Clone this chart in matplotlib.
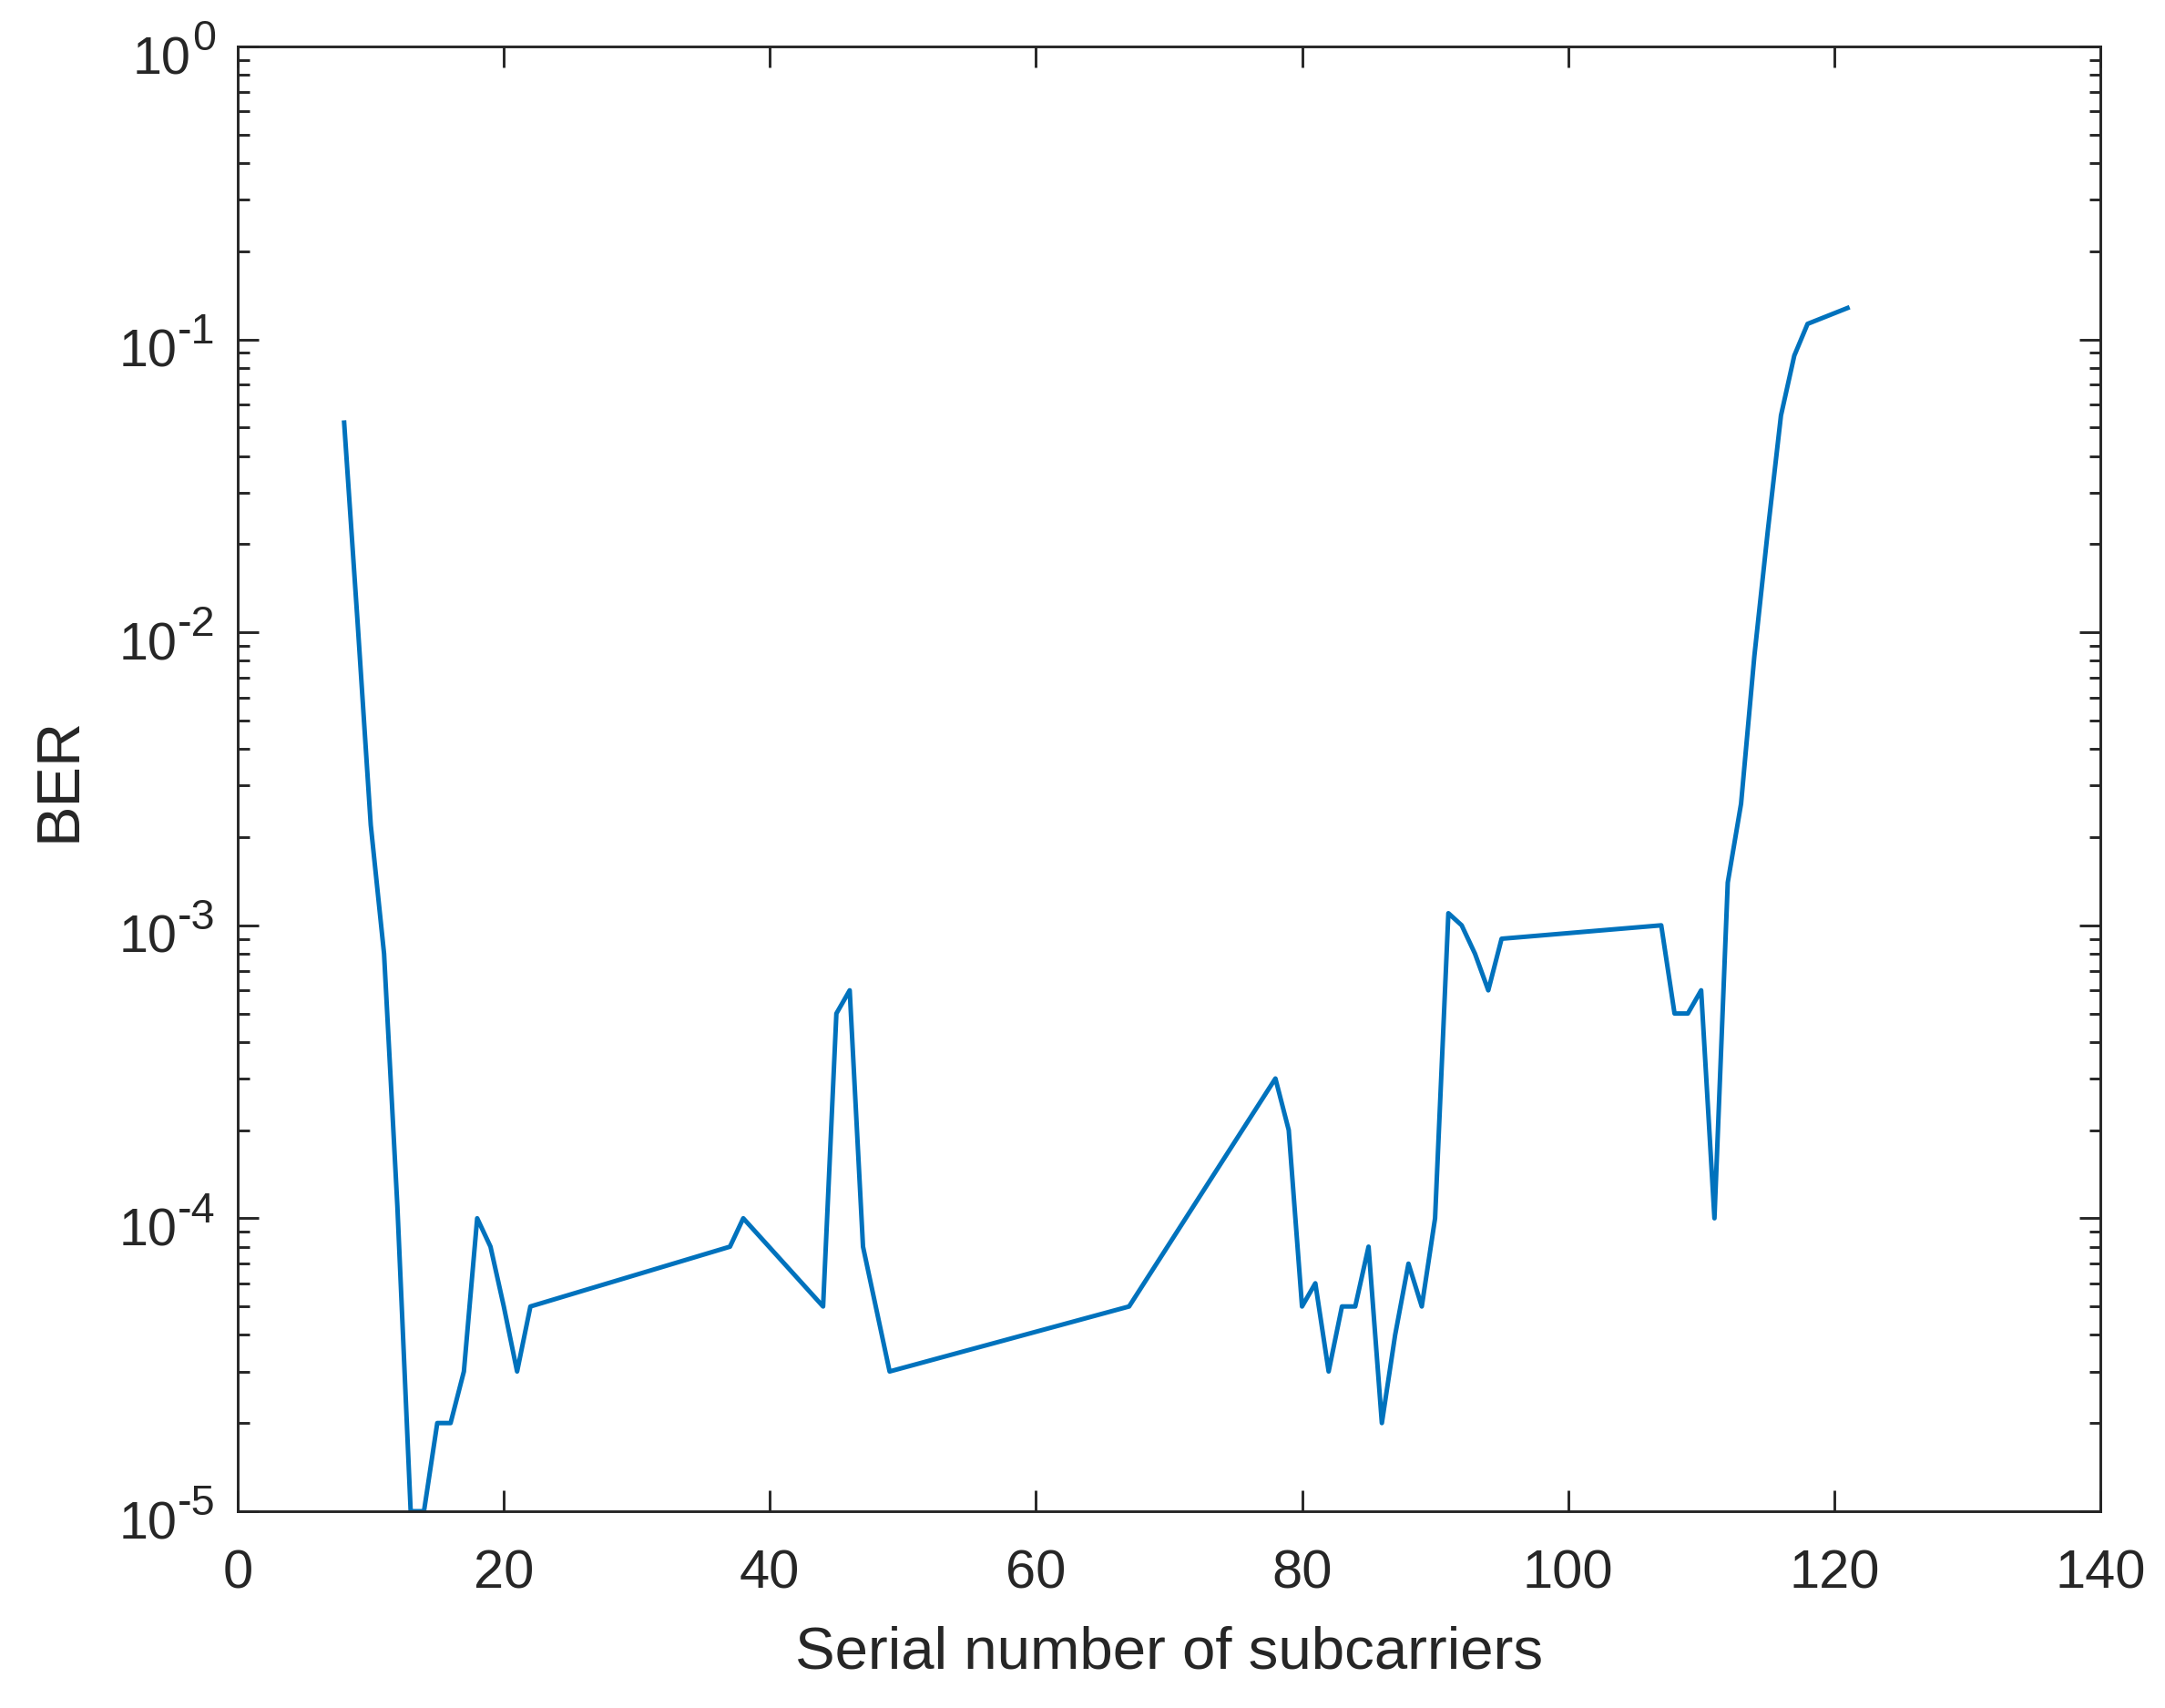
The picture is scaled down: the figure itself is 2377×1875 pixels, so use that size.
import matplotlib
matplotlib.use("Agg")
import math
import matplotlib.pyplot as plt
from matplotlib.ticker import FixedLocator, LogLocator, NullFormatter

# BER per subcarrier
subcarrier = [8, 9, 10, 11, 12, 13, 14, 15, 16, 17, 18, 19, 20, 21, 22,
              37, 38, 44, 45, 46, 47, 49, 67, 78, 79, 80, 81, 82, 83, 84,
              85, 86, 87, 88, 89, 90, 91, 92, 93, 94, 95, 107, 108, 109,
              110, 111, 112, 113, 114, 115, 116, 117, 118, 121]
ber = [0.052, 0.011, 0.0022, 0.0008, 1.1e-4, 1e-5, 1e-5, 2e-5, 2e-5, 3e-5,
       1e-4, 8e-5, 5e-5, 3e-5, 5e-5,
       8e-5, 1e-4, 5e-5, 5e-4, 6e-4, 8e-5, 3e-5, 5e-5, 3e-4, 2e-4, 5e-5,
       6e-5, 3e-5, 5e-5, 5e-5,
       8e-5, 2e-5, 4e-5, 7e-5, 5e-5, 1e-4, 1.1e-3, 1e-3, 8e-4, 6e-4, 9e-4,
       1e-3, 5e-4, 5e-4,
       6e-4, 1e-4, 1.4e-3, 2.6e-3, 8.3e-3, 0.022, 0.055, 0.088, 0.113, 0.128]

x_ticks = [0, 20, 40, 60, 80, 100, 120, 140]
y_decades = [1e-5, 1e-4, 1e-3, 1e-2, 1e-1, 1e0]

plt.rcParams['font.family'] = ['Liberation Sans', 'DejaVu Sans']

axis_col = '#262626'

fig = plt.figure(figsize=(2377 / 300, 1875 / 300), dpi=300)
ax = fig.add_axes([0.1098, 0.1152, 0.8603, 0.8576])

ax.semilogy(subcarrier, ber, color='#0072BD', linewidth=1.2)

ax.set_xlim(0, 140)
ax.set_ylim(1e-5, 1)
ax.xaxis.set_major_locator(FixedLocator(x_ticks))
ax.yaxis.set_major_locator(FixedLocator(y_decades))
ax.yaxis.set_minor_locator(LogLocator(base=10, subs=range(2, 10)))
ax.yaxis.set_minor_formatter(NullFormatter())
ax.yaxis.set_major_formatter(NullFormatter())

ax.tick_params(which='both', direction='in', top=True, right=True,
               color=axis_col, labelcolor=axis_col, width=0.7)
ax.tick_params(which='major', length=5.5)
ax.tick_params(which='minor', length=3)
ax.tick_params(axis='x', labelsize=14.3, pad=10)
for s in ax.spines.values():
    s.set_color(axis_col)
    s.set_linewidth(0.7)

# MATLAB-style decade labels: "10" with a hyphen exponent
for d in y_decades:
    e = int(round(math.log10(d)))
    exp_txt = ax.annotate(str(e), xy=(0, d), xycoords=('axes fraction', 'data'),
                          xytext=(-5.8, -1.0), textcoords='offset points',
                          ha='right', va='baseline', fontsize=11.2,
                          color=axis_col, annotation_clip=False)
    ax.annotate('10', xy=(0, d), xycoords=(exp_txt, 'data'),
                xytext=(-0.2, -7.2), textcoords='offset points',
                ha='right', va='baseline', fontsize=13.8,
                color=axis_col, annotation_clip=False)

ax.set_xlabel('Serial number of subcarriers', fontsize=15.7, color=axis_col,
              labelpad=7)
ax.set_ylabel('BER', fontsize=16, color=axis_col)
ax.yaxis.set_label_coords(-0.0805, 0.5)

fig.savefig('out.png', dpi=300)
